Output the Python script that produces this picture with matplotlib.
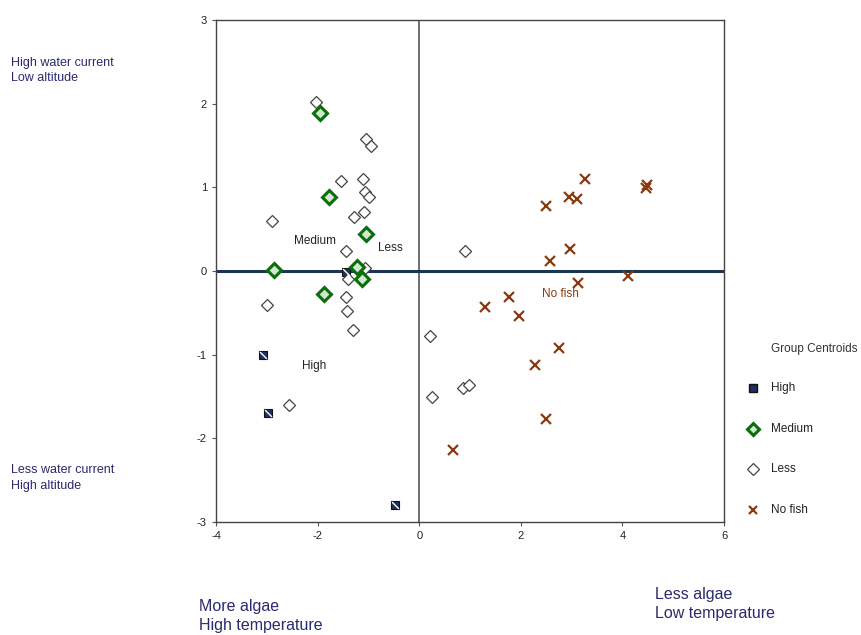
import numpy as np
import matplotlib
matplotlib.use("Agg")
import matplotlib.pyplot as plt

plt.rcParams["font.family"] = ["Liberation Sans", "DejaVu Sans"]
plt.rcParams["axes.unicode_minus"] = False

# group members (function 1, function 2)
high_x = [-1.44, -3.08, -2.97, -0.47]
high_y = [-0.01, -1.00, -1.70, -2.80]

medium_x = [-1.95, -1.78, -1.05, -2.85, -1.23, -1.12, -1.88]
medium_y = [1.89, 0.88, 0.44, 0.01, 0.05, -0.10, -0.27]

less_x = [-2.04, -1.04, -0.94, -1.54, -1.10, -1.06, -0.98, -2.89, -1.29, -1.09,
          -1.44, -1.07, -1.40, -1.44, -3.00, -1.42, -1.31, 0.22, -2.56, 0.25,
          0.91, 0.87, 0.98]
less_y = [2.02, 1.58, 1.49, 1.08, 1.10, 0.94, 0.88, 0.60, 0.65, 0.70,
          0.24, 0.04, -0.09, -0.31, -0.41, -0.48, -0.71, -0.78, -1.60, -1.51,
          0.24, -1.40, -1.36]

nofish_x = [2.49, 2.94, 3.10, 3.27, 4.49, 4.47, 2.96, 2.57, 4.11, 3.12,
            1.76, 1.30, 1.96, 2.75, 2.28, 2.49, 0.67]
nofish_y = [0.78, 0.88, 0.86, 1.10, 1.03, 0.99, 0.26, 0.12, -0.06, -0.14,
            -0.31, -0.43, -0.54, -0.92, -1.12, -1.77, -2.14]

group_labels = ["High", "Medium", "Less", "No fish"]
label_pos = [(-2.07, -1.13), (-2.05, 0.36), (-0.57, 0.27), (2.78, -0.27)]
label_colors = ["#222222", "#222222", "#222222", "#8b3a0f"]

navy = "#2a2a6e"

fig = plt.figure(figsize=(8.62, 6.35), dpi=100)
ax = fig.add_axes([0.2506, 0.178, 0.5894, 0.7905])

ax.axvline(0, color="#555555", lw=1.2, zorder=1)
ax.axhline(0, color="#1c3550", lw=2.2, zorder=1)

ax.plot(high_x, high_y, ls="none", marker="s", ms=6, mfc="#1f2f5f",
        mec="#111111", mew=0.8, zorder=3)
ax.plot(high_x, high_y, ls="none", marker=[(-0.5, 0.5), (0.5, -0.5)], ms=5,
        mec="white", mew=1.0, zorder=4)
ax.plot(less_x, less_y, ls="none", marker="D", ms=6, mfc="white",
        mec="#444444", mew=0.9, zorder=3)
ax.plot(medium_x, medium_y, ls="none", marker="D", ms=7, mfc="#cfe8cf",
        mec="#0a6e0a", mew=2.2, zorder=3)
ax.plot(nofish_x, nofish_y, ls="none", marker="x", ms=7, mec="#8b3a0f",
        mew=1.6, zorder=3)

for name, (lx, ly), c in zip(group_labels, label_pos, label_colors):
    ax.text(lx, ly, name, fontsize=8.5, color=c, ha="center", va="center")

ax.set_xlim(-4, 6)
ax.set_ylim(-3, 3)
ax.set_xticks([-4, -2, 0, 2, 4, 6])
ax.set_yticks([-3, -2, -1, 0, 1, 2, 3])
ax.tick_params(labelsize=8, length=3, color="#555555", colors="#222222")
for s in ax.spines.values():
    s.set_color("#444444")
    s.set_linewidth(1.0)

# legend
fig.text(0.895, 0.45, "Group Centroids", fontsize=8.5, color="#333333", va="center")
leg_y = [0.389, 0.325, 0.261, 0.197]
leg_markers = [("s", "#1f2f5f", "#111111", 1.0, 6), ("D", "#cfe8cf", "#0a6e0a", 2.2, 6),
               ("D", "white", "#444444", 0.9, 6), ("x", "none", "#8b3a0f", 1.6, 6)]
for name, yy, (m, fc, ec, mw, ms) in zip(group_labels, leg_y, leg_markers):
    fig.lines.append(plt.Line2D([0.873], [yy], transform=fig.transFigure, marker=m,
                                mfc=fc, mec=ec, mew=mw, ms=ms, ls="none"))
    fig.text(0.894, yy, name, fontsize=8.5, color="#222222", va="center")

fig.text(0.013, 0.889, "High water current\nLow altitude", fontsize=9, color=navy,
         va="center", linespacing=1.4)
fig.text(0.013, 0.247, "Less water current\nHigh altitude", fontsize=9, color=navy,
         va="center", linespacing=1.4)
fig.text(0.231, 0.03, "More algae\nHigh temperature", fontsize=11.5, color=navy,
         va="center", linespacing=1.35)
fig.text(0.76, 0.049, "Less algae\nLow temperature", fontsize=11.5, color=navy,
         va="center", linespacing=1.35)

fig.savefig("out.png", dpi=100)
